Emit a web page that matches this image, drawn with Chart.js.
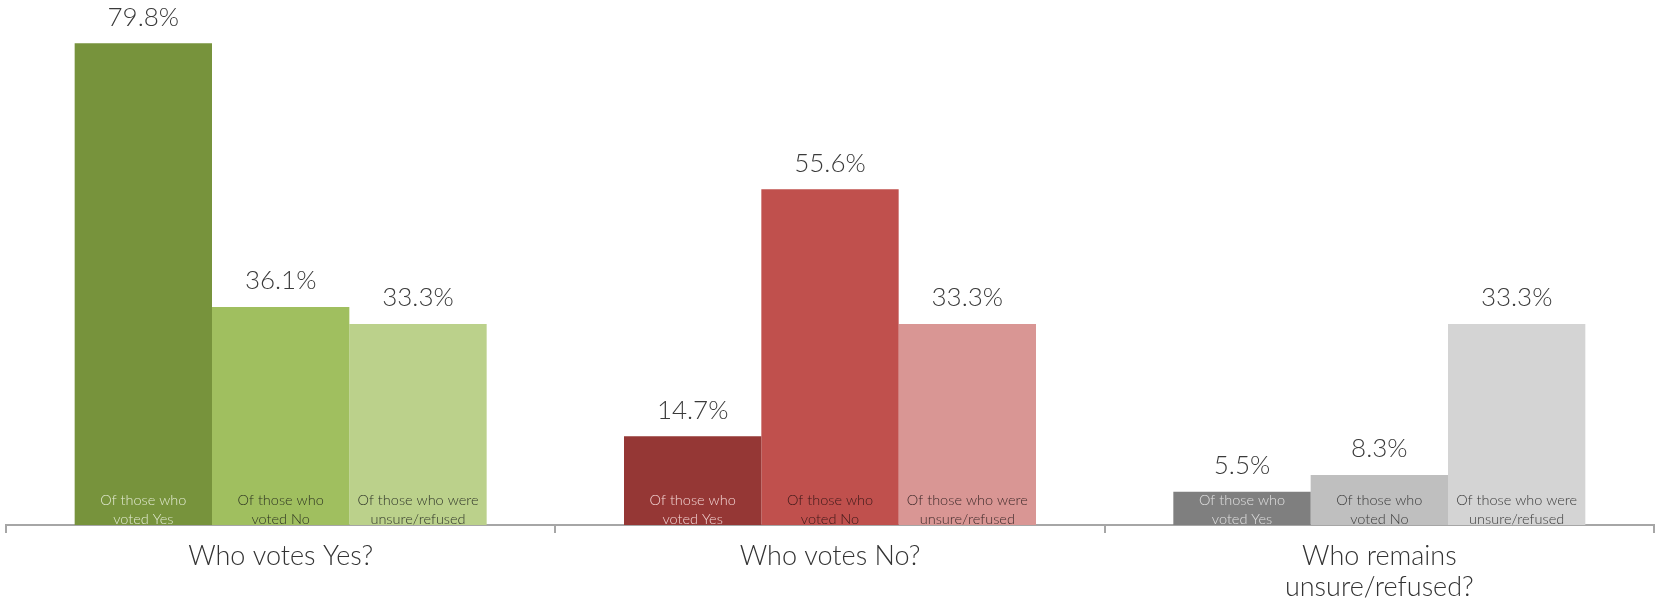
<!DOCTYPE html>
<html>
<head>
<meta charset="utf-8">
<script src="https://cdn.jsdelivr.net/npm/chart.js@4"></script>
<style>
  html, body { margin: 0; padding: 0; background: #fff; }
  #wrap { width: 1655px; height: 602px; }
</style>
</head>
<body>
<div id="wrap"><canvas id="chart"></canvas></div>
<script>
// groups on the x axis
const categories = [['Who votes Yes?'], ['Who votes No?'], ['Who remains', 'unsure/refused?']];
// one series per sub-group
const seriesNames = [['Of those who', 'voted Yes'], ['Of those who', 'voted No'], ['Of those who were', 'unsure/refused']];
const votedYes = [79.8, 14.7, 5.5];
const votedNo = [36.1, 55.6, 8.3];
const unsure = [33.3, 33.3, 33.3];

const barColors = [
    ['#77933C', '#953735', '#7F7F7F'],
    ['#A0BF5F', '#C0504D', '#BFBFBF'],
    ['#BBD18B', '#D99694', '#D4D4D4']
];
const innerTextColors = [
    ['#E2EAD2', '#F2D4D3', '#E0E0E0'],
    ['#2E3522', '#3A1818', '#3A3A3A'],
    ['#30362A', '#3E2A2A', '#3A3A3A']
];

const FONT = 'Lato, "Open Sans", sans-serif';

const barLabels = {
    id: 'barLabels',
    afterDatasetsDraw(chart) {
        const ctx = chart.ctx;
        const area = chart.chartArea;
        chart.data.datasets.forEach((ds, di) => {
            const meta = chart.getDatasetMeta(di);
            meta.data.forEach((bar, i) => {
                // value above the bar
                ctx.save();
                ctx.font = '300 26px ' + FONT;
                ctx.fillStyle = '#3a3a3a';
                ctx.textAlign = 'center';
                ctx.textBaseline = 'middle';
                ctx.fillText(ds.data[i].toFixed(1) + '%', bar.x, bar.y - 26);
                ctx.restore();

                // series name at the foot of the bar, cut off by the axis
                ctx.save();
                ctx.beginPath();
                ctx.rect(area.left, area.top - 50, area.right - area.left, area.bottom - area.top + 50);
                ctx.clip();
                ctx.font = '300 14.5px ' + FONT;
                ctx.fillStyle = innerTextColors[di][i];
                ctx.textAlign = 'center';
                ctx.textBaseline = 'middle';
                ctx.fillText(seriesNames[di][0], bar.x, area.bottom - 25);
                ctx.fillText(seriesNames[di][1], bar.x, area.bottom - 6);
                ctx.restore();
            });
        });
    }
};

new Chart(document.getElementById('chart').getContext('2d'), {
    type: 'bar',
    data: {
        labels: categories,
        datasets: [
            {label: seriesNames[0].join(' '), data: votedYes, backgroundColor: barColors[0]},
            {label: seriesNames[1].join(' '), data: votedNo, backgroundColor: barColors[1]},
            {label: seriesNames[2].join(' '), data: unsure, backgroundColor: barColors[2]}
        ]
    },
    options: {
        responsive: true,
        maintainAspectRatio: false,
        animation: false,
        categoryPercentage: 0.75,
        barPercentage: 1.0,
        layout: {
            padding: {left: 6, right: 1, top: 42, bottom: 0}
        },
        plugins: {
            legend: {display: false},
            tooltip: {enabled: false}
        },
        scales: {
            x: {
                z: 1,
                offset: true,
                grid: {
                    offset: true,
                    drawOnChartArea: false,
                    drawTicks: true,
                    tickLength: 8,
                    color: '#A6A6A6',
                    lineWidth: 2
                },
                border: {color: '#A6A6A6', width: 2},
                ticks: {
                    color: '#333333',
                    padding: 8,
                    maxRotation: 0,
                    font: {family: FONT, size: 27, weight: '300', lineHeight: 1.15}
                },
                afterFit(scale) { scale.height = 77; }
            },
            y: {
                display: false,
                min: 0,
                max: 80
            }
        }
    },
    plugins: [barLabels]
});
</script>
</body>
</html>
